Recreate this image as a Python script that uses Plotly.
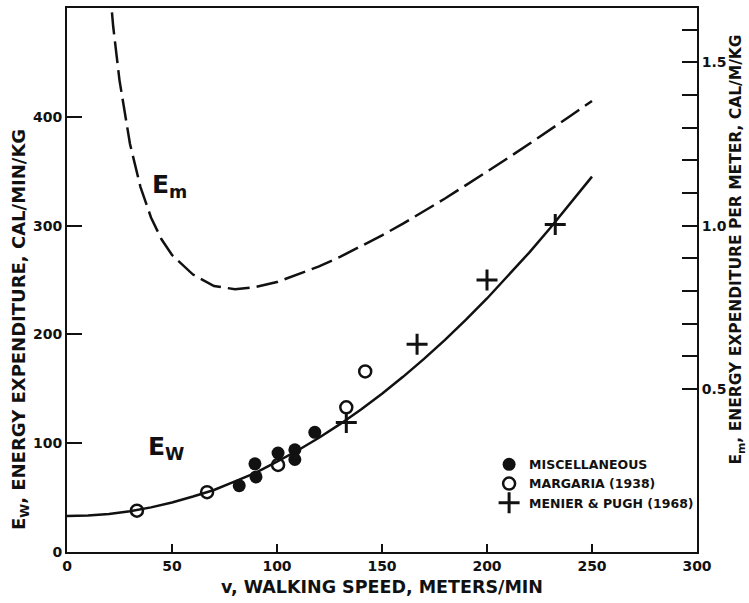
import plotly.graph_objects as go

# Solid E_w curve (cal/min/kg)
ew_v = [0, 10, 20, 30, 40, 50, 60, 70, 80, 90, 100, 110, 120, 130, 140, 150,
        160, 170, 180, 190, 200, 210, 220, 230, 240, 250]
ew_y = [33, 33.5, 35, 37.5, 41, 45.5, 51, 57, 65, 73, 83, 93.5, 105, 117.5, 131, 145.5,
        161, 177.5, 195, 213.5, 233, 253.5, 275, 297.5, 321, 345]

# Dashed E_m curve (cal/m/kg, right axis)
em_v = [19, 20, 22, 25, 30, 35, 40, 45, 50, 60, 70, 80, 90, 100, 110, 120, 130,
        140, 150, 160, 170, 180, 190, 200, 210, 220, 230, 240, 250]
em_y = [1.83, 1.75, 1.61, 1.445, 1.25, 1.118, 1.025, 0.958, 0.91, 0.85, 0.815, 0.805,
        0.812, 0.827, 0.85, 0.875, 0.904, 0.936, 0.97, 1.006, 1.044, 1.083, 1.124,
        1.165, 1.207, 1.25, 1.293, 1.3375, 1.382]

# Data points
misc_v = [82, 89.5, 90, 100.5, 108.5, 108.5, 118]
misc_y = [61, 81, 69, 91, 94, 85, 110]
marg_v = [33.3, 66.7, 100.5, 133, 142]
marg_y = [38, 55, 80, 133, 166]
menier_v = [133, 166.7, 200, 232.5]
menier_y = [119, 191, 250, 301]

x_ticks = [0, 50, 100, 150, 200, 250, 300]
y_ticks = [0, 100, 200, 300, 400]
y2_ticks = [0.5, 0.6, 0.7, 0.8, 0.9, 1.0, 1.1, 1.2, 1.3, 1.4, 1.5, 1.6]
y2_labels = ["0.5", "", "", "", "", "1.0", "", "", "", "", "1.5", ""]

x_title = "v, WALKING SPEED, METERS/MIN"
y_title = "E<sub>W</sub>, ENERGY EXPENDITURE, CAL/MIN/KG"
y2_title = "E<sub>m</sub>, ENERGY EXPENDITURE PER METER, CAL/M/KG"

FONT = "DejaVu Sans"
BLACK = "#111111"

fig = go.Figure()
fig.add_trace(go.Scatter(x=ew_v, y=ew_y, mode="lines", line=dict(color=BLACK, width=2.5),
                         showlegend=False, hoverinfo="skip"))
fig.add_trace(go.Scatter(x=em_v, y=em_y, mode="lines", yaxis="y2",
                         line=dict(color=BLACK, width=2.5, dash="22px,7px"),
                         showlegend=False, hoverinfo="skip"))
fig.add_trace(go.Scatter(x=misc_v, y=misc_y, mode="markers", name="MISCELLANEOUS",
                         marker=dict(symbol="circle", size=13, color=BLACK)))
fig.add_trace(go.Scatter(x=marg_v, y=marg_y, mode="markers", name="MARGARIA (1938)",
                         marker=dict(symbol="circle-open", size=12, color=BLACK,
                                     line=dict(width=2.5, color=BLACK))))
fig.add_trace(go.Scatter(x=menier_v, y=menier_y, mode="markers", name="MENIER & PUGH (1968)",
                         marker=dict(symbol="cross-thin", size=15, color=BLACK,
                                     line=dict(width=3, color=BLACK))))

fig.add_annotation(x=49, y=336, text="E<sub>m</sub>", showarrow=False,
                   font=dict(family=FONT, size=25, color=BLACK, weight="bold"),
                   xanchor="center", yanchor="middle")
fig.add_annotation(x=47, y=96, text="E<sub>W</sub>", showarrow=False,
                   font=dict(family=FONT, size=25, color=BLACK, weight="bold"),
                   xanchor="center", yanchor="middle")

# Y-axis titles (placed as rotated annotations to match the reference position)
fig.add_annotation(xref="paper", yref="paper", x=-0.0746, y=0.408, text=y_title,
                   textangle=-90, showarrow=False, xanchor="center", yanchor="middle",
                   font=dict(family=FONT, size=18, color=BLACK, weight="bold"))
fig.add_annotation(xref="paper", yref="paper", x=1.0635, y=0.556, text=y2_title,
                   textangle=-90, showarrow=False, xanchor="center", yanchor="middle",
                   font=dict(family=FONT, size=15.5, color=BLACK, weight="bold"))

fig.update_layout(
    width=749, height=603,
    margin=dict(l=67, r=52, t=6, b=51),
    paper_bgcolor="white", plot_bgcolor="white",
    font=dict(family=FONT, color=BLACK, size=13),
    xaxis=dict(range=[0, 300], tickvals=x_ticks, ticks="inside", ticklen=8, tickwidth=2,
               tickcolor=BLACK, showline=True, linecolor=BLACK, linewidth=2, mirror=True,
               showgrid=False, zeroline=False,
               tickfont=dict(family=FONT, size=14, weight="bold"),
               title=dict(text=x_title, standoff=8,
                          font=dict(family=FONT, size=17.5, weight="bold"))),
    yaxis=dict(range=[0, 500], tickvals=y_ticks, ticks="inside", ticklen=15, tickwidth=2,
               tickcolor=BLACK, showline=True, linecolor=BLACK, linewidth=2,
               showgrid=False, zeroline=False,
               tickfont=dict(family=FONT, size=14, weight="bold")),
    yaxis2=dict(range=[0, 500 / 300], overlaying="y", side="right", tickvals=y2_ticks,
                ticktext=y2_labels, ticks="inside", ticklen=15, tickwidth=2, tickcolor=BLACK,
                showline=True, linecolor=BLACK, linewidth=2, showgrid=False, zeroline=False,
                tickfont=dict(family=FONT, size=14, weight="bold")),
    legend=dict(x=0.67, y=0.188, xanchor="left", yanchor="top", bgcolor="rgba(0,0,0,0)",
                font=dict(family=FONT, size=12.5, weight="bold"), tracegroupgap=0,
                itemsizing="trace", traceorder="normal"),
)

fig.write_html("out.html")
